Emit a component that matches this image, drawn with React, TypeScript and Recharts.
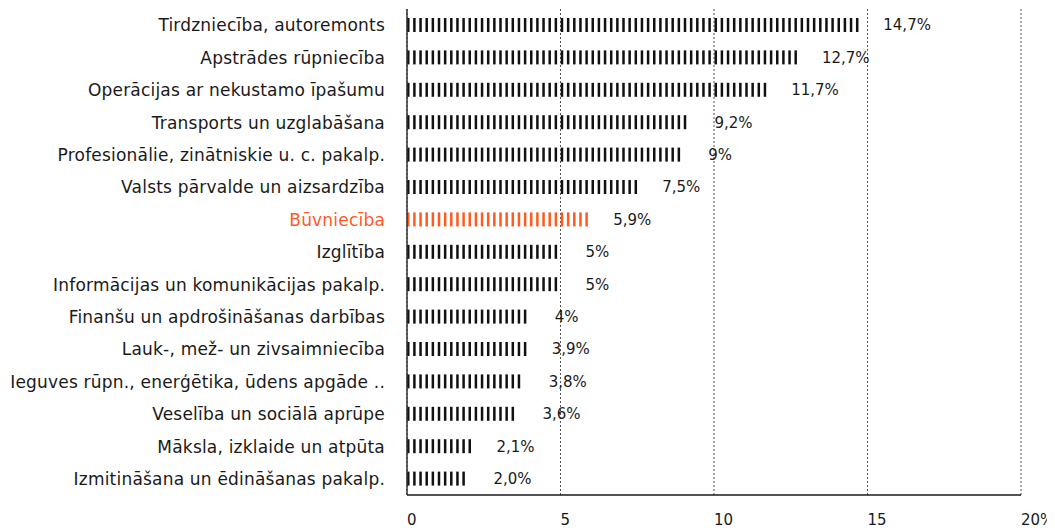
import { BarChart, Bar, XAxis, YAxis, CartesianGrid, LabelList } from 'recharts'

// Nozaru daļa (%), sakārtota no lielākās uz mazāko
const categories = [
  'Tirdzniecība, autoremonts',
  'Apstrādes rūpniecība',
  'Operācijas ar nekustamo īpašumu',
  'Transports un uzglabāšana',
  'Profesionālie, zinātniskie u. c. pakalp.',
  'Valsts pārvalde un aizsardzība',
  'Būvniecība',
  'Izglītība',
  'Informācijas un komunikācijas pakalp.',
  'Finanšu un apdrošināšanas darbības',
  'Lauk-, mež- un zivsaimniecība',
  'Ieguves rūpn., enerģētika, ūdens apgāde ..',
  'Veselība un sociālā aprūpe',
  'Māksla, izklaide un atpūta',
  'Izmitināšana un ēdināšanas pakalp.',
]
const values = [14.7, 12.7, 11.7, 9.2, 9, 7.5, 5.9, 5, 5, 4, 3.9, 3.8, 3.6, 2.1, 2.0]
const valueLabels = ['14,7%', '12,7%', '11,7%', '9,2%', '9%', '7,5%', '5,9%', '5%', '5%', '4%', '3,9%', '3,8%', '3,6%', '2,1%', '2,0%']
const highlight = 'Būvniecība'
const xTicks = [0, 5, 10, 15, 20]

const data = categories.map((name, i) => ({ name, value: values[i], label: valueLabels[i] }))

const INK = '#1a1a1a'
const ORANGE = '#ff5a1f'
const FONT = '"DejaVu Sans", "Noto Sans", sans-serif'

// bar drawn as a row of thin vertical dashes
function StripedBar(props: any) {
  const { x, y, width, height, payload } = props
  const fill = payload.name === highlight ? ORANGE : '#111'
  const period = 6.15
  const stripe = 2.5
  const rects = []
  for (let sx = x; sx + stripe <= x + width + 0.5; sx += period) {
    rects.push(<rect key={sx} x={sx} y={y} width={stripe} height={height} fill={fill} />)
  }
  return <g>{rects}</g>
}

function CategoryTick(props: any) {
  const { x, y, payload } = props
  return (
    <text x={x} y={y} dy="0.36em" textAnchor="end" fontSize={17} letterSpacing={0.2} fontFamily={FONT}
      fill={payload.value === highlight ? ORANGE : INK}>
      {payload.value}
    </text>
  )
}

function ValueLabel(props: any) {
  const { x, y, width, height, value } = props
  return (
    <text x={x + width + 25} y={y + height / 2} dy="0.36em" textAnchor="start" fontSize={15} fontFamily={FONT} fill={INK}>
      {value}
    </text>
  )
}

export default function App() {
  return (
    <BarChart width={1047} height={520} data={data} layout="vertical"
      margin={{ top: 1, right: 34, bottom: 0, left: 0 }} barCategoryGap={0}>
      <CartesianGrid horizontal={false} stroke="#555" strokeDasharray="2 2" />
      <XAxis type="number" domain={[0, 20]} ticks={xTicks} interval={0}
        tickFormatter={(v: number) => (v === 20 ? '20%' : String(v))}
        axisLine={{ stroke: INK, strokeWidth: 1.5 }} tickLine={false} tickMargin={13} height={33}
        tick={{ fill: INK, fontSize: 15, fontFamily: FONT, textAnchor: 'start' }} />
      <YAxis type="category" dataKey="name" width={399} interval={0}
        axisLine={{ stroke: '#333', strokeWidth: 1.5 }} tickLine={false} tickMargin={16}
        tick={<CategoryTick />} />
      <Bar dataKey="value" barSize={14} shape={<StripedBar />} isAnimationActive={false}>
        <LabelList dataKey="label" content={<ValueLabel />} />
      </Bar>
    </BarChart>
  )
}
